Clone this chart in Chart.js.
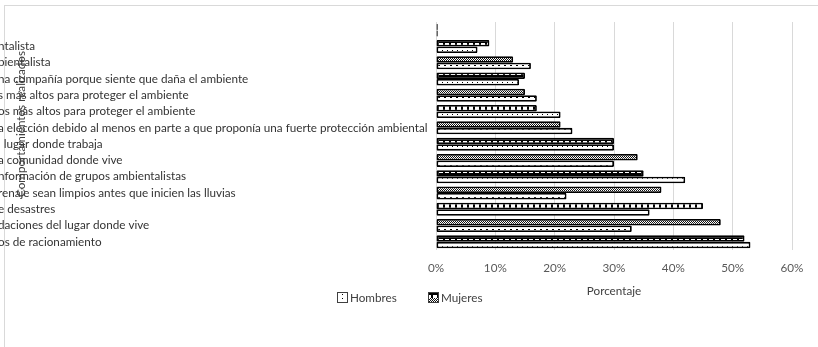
<!DOCTYPE html>
<html>
<head>
<meta charset="utf-8">
<script src="https://cdn.jsdelivr.net/npm/chart.js@4"></script>
<style>
  html, body { margin: 0; padding: 0; background: #ffffff; overflow: hidden; }
  #wrap { position: relative; width: 818px; height: 347px; overflow: hidden; }
  #frame { position: absolute; left: 4px; top: 5px; width: 900px; height: 400px;
           border: 1px solid #d9d9d9; box-sizing: border-box; }
  #c { position: absolute; left: 0; top: 0; }
</style>
</head>
<body>
<div id="wrap">
  <div id="frame"></div>
  <canvas id="c" width="818" height="347"></canvas>
</div>
<script>
// Behaviour categories (left-aligned labels, clipped at the frame edge)
const categories = [
  "",
  "ntalista",
  "bientalista",
  "na compañía porque siente que daña el ambiente",
  "s más altos para proteger el ambiente",
  "os más altos para proteger el ambiente",
  "a elección debido al menos en parte a que proponía una fuerte protección ambiental",
  "l lugar donde trabaja",
  "a comunidad donde vive",
  "nformación de grupos ambientalistas",
  "renaje sean limpios antes que inicien las lluvias",
  "e desastres",
  "daciones del lugar donde vive",
  "os de racionamiento"
];

// Percentages by sex
const mujeres = [0.3, 9, 13, 15, 15, 17, 21, 30, 34, 35, 38, 45, 48, 52];
const hombres = [0.3, 7, 16, 14, 17, 21, 23, 30, 30, 42, 22, 36, 33, 53];

const xTicks = [0, 10, 20, 30, 40, 50, 60];
const xTitle = "Porcentaje";
const yTitle = "Comportamientos realizados";
const seriesNames = ["Hombres", "Mujeres"];

// Pick a font size so the longest label spans the left panel
const FAMILY = "Lato, 'Liberation Sans', sans-serif";
const probe = document.createElement('canvas').getContext('2d');
probe.font = "12px " + FAMILY;
const longest = categories.reduce((a, b) => (probe.measureText(b).width > probe.measureText(a).width ? b : a), "");
const FS = Math.round(12 * 431 / probe.measureText(longest).width * 10) / 10;

// Fill patterns
function makePattern(w, h, draw) {
  const c = document.createElement('canvas');
  c.width = w; c.height = h;
  const g = c.getContext('2d');
  draw(g);
  return g.createPattern(c, 'repeat');
}
const patBlocks = makePattern(6, 7, g => {
  g.fillStyle = '#000'; g.fillRect(0, 0, 6, 7);
  g.fillStyle = '#fff'; g.fillRect(1, 1, 4, 4);
});
const patFine = makePattern(2, 2, g => {
  g.fillStyle = '#fff'; g.fillRect(0, 0, 2, 2);
  g.fillStyle = '#111'; g.fillRect(0, 0, 1, 1); g.fillRect(1, 1, 1, 1);
});
const patDots = makePattern(5, 4, g => {
  g.fillStyle = '#fff'; g.fillRect(0, 0, 5, 4);
  g.fillStyle = '#000'; g.fillRect(2, 2, 1, 1);
});
const patDash = makePattern(6, 4, g => {
  g.fillStyle = '#fff'; g.fillRect(0, 0, 6, 4);
  g.fillStyle = '#000'; g.fillRect(0, 1, 2, 1);
});

const mujeresFill = mujeres.map((_, i) => (i % 2 === 1 ? patBlocks : patFine));
const hombresFill = hombres.map((_, i) => (i % 2 === 1 ? patDots : patDash));

// Vertical axis title and legend drawn on top of the chart
const extras = {
  id: 'extras',
  afterDraw(chart) {
    const ctx = chart.ctx;
    ctx.save();
    ctx.fillStyle = '#404040';
    ctx.font = FS + "px " + FAMILY;
    ctx.textAlign = 'center';
    ctx.textBaseline = 'middle';
    ctx.translate(21.5, 124);
    ctx.rotate(-Math.PI / 2);
    ctx.fillText(yTitle, 0, 0);
    ctx.restore();

    const items = [
      { x: 337, fill: patDots, label: seriesNames[0] },
      { x: 428, fill: patBlocks, label: seriesNames[1] }
    ];
    ctx.save();
    items.forEach((it, k) => {
      ctx.fillStyle = it.fill;
      ctx.fillRect(it.x, 292, 11, 11);
      if (k === 1) { ctx.fillStyle = patFine; ctx.fillRect(it.x, 298, 11, 5); }
      ctx.strokeStyle = '#404040';
      ctx.lineWidth = 1;
      ctx.strokeRect(it.x + 0.5, 292.5, 10, 10);
      ctx.fillStyle = '#404040';
      ctx.font = FS + "px " + FAMILY;
      ctx.textAlign = 'left';
      ctx.textBaseline = 'middle';
      ctx.fillText(it.label, it.x + 13, 298);
    });
    ctx.restore();
  }
};

new Chart(document.getElementById('c'), {
  type: 'bar',
  data: {
    labels: categories,
    datasets: [
      { label: seriesNames[1], data: mujeres, backgroundColor: mujeresFill,
        borderColor: '#000', borderWidth: 1.8, borderRadius: 1, borderSkipped: false },
      { label: seriesNames[0], data: hombres, backgroundColor: hombresFill,
        borderColor: '#000', borderWidth: 1.8, borderRadius: 1, borderSkipped: false }
    ]
  },
  options: {
    indexAxis: 'y',
    responsive: false,
    animation: false,
    devicePixelRatio: 1,
    datasets: { bar: { categoryPercentage: 0.8, barPercentage: 1.0 } },
    layout: { padding: { left: -2, top: 22, right: 26, bottom: 42 } },
    plugins: { legend: { display: false }, tooltip: { enabled: false } },
    scales: {
      x: {
        min: xTicks[0], max: xTicks[xTicks.length - 1],
        afterBuildTicks: s => { s.ticks = xTicks.map(v => ({ value: v })); },
        afterFit: s => { s.height = 55; },
        grid: { color: '#d9d9d9', lineWidth: 1, drawTicks: false },
        border: { display: false },
        ticks: { callback: v => v + '%', color: '#595959', padding: 11,
                 font: { family: FAMILY, size: FS } },
        title: { display: true, text: xTitle, color: '#404040',
                 font: { family: FAMILY, size: FS }, padding: { top: 0, bottom: 7 } }
      },
      y: {
        afterFit: s => { s.width = 438; },
        grid: { display: false, drawTicks: false },
        border: { display: false },
        ticks: { autoSkip: false, crossAlign: 'far', color: '#333333', padding: 0,
                 font: { family: FAMILY, size: FS } }
      }
    }
  },
  plugins: [extras]
});
</script>
</body>
</html>
